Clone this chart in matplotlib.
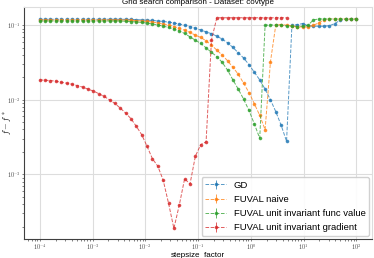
import matplotlib

# no display in the sandbox
matplotlib.use('Agg')

import numpy as np
import matplotlib.pyplot as plt
from matplotlib.ticker import FuncFormatter

plt.rcParams['mathtext.fontset'] = 'cm'
plt.rcParams['font.family'] = ['Liberation Sans', 'DejaVu Sans']

# stepsize factors, 60 values from 1e-4 to 1e2
stepsizes = np.logspace(-4, 2, 60)

gd = [0.1202] * 16 + [
    0.1199, 0.1196, 0.1188, 0.1180, 0.1169, 0.1159, 0.1141, 0.1124, 0.1100, 0.1073,
    0.1040, 0.1003, 0.0961, 0.0912, 0.0863, 0.0814, 0.0770, 0.0713, 0.0651, 0.0581,
    0.0504, 0.0427, 0.0363, 0.0296, 0.0234, 0.0185, 0.0139, 0.0100, 0.00692, 0.00454,
    0.00278, 0.1000, 0.1015, 0.1054, 0.0985, 0.0970, 0.0970, 0.0970, 0.0985, 0.1054,
    0.1166, 0.1202, 0.1213, 0.1213]

fuval_naive = [0.1177] * 16 + [
    0.1174, 0.1166, 0.1155, 0.1141, 0.1124, 0.1104, 0.1076, 0.1044, 0.1006, 0.0961,
    0.0904, 0.0858, 0.0799, 0.0736, 0.0686, 0.0618, 0.0541, 0.0464, 0.0398, 0.0334,
    0.0273, 0.0220, 0.0167, 0.0125, 0.00885, 0.00618, 0.00398, 0.0324, 0.1015, 0.1022,
    0.1000, 0.0979, 0.0949, 0.0949, 0.0949, 0.1000, 0.1073, 0.1191] + [0.1213] * 6

fuval_func = [0.1141] * 16 + [
    0.1130, 0.1120, 0.1107, 0.1090, 0.1067, 0.1040, 0.1009, 0.0973, 0.0932, 0.0885,
    0.0839, 0.0775, 0.0698, 0.0630, 0.0570, 0.0498, 0.0433, 0.0380, 0.0318, 0.0250,
    0.0185, 0.0139, 0.0102, 0.00720, 0.00474, 0.00305, 0.1000, 0.1009, 0.1009, 0.1000,
    0.0979, 0.0970, 0.0961, 0.0970, 0.1000, 0.1177] + [0.1213] * 8

fuval_grad = [
    0.0185, 0.0183, 0.0181, 0.0178, 0.0172, 0.0167, 0.0162, 0.0155, 0.0148, 0.0139,
    0.0131, 0.0121, 0.0111, 0.0100, 0.00893, 0.00775, 0.00665, 0.00558, 0.00441, 0.00341,
    0.00238, 0.00162, 0.00129, 0.000839, 0.000411, 0.000189, 0.000386, 0.000876, 0.000742,
    0.00175, 0.00251, 0.00273, 0.0631] + [0.1259] * 14

series = [
    ('GD', gd),
    ('FUVAL naive', fuval_naive),
    ('FUVAL unit invariant func value', fuval_func),
    ('FUVAL unit invariant gradient', fuval_grad),
]

xticks = [1e-4, 1e-3, 1e-2, 1e-1, 1e0, 1e1, 1e2]
yticks = [1e-3, 1e-2, 1e-1]

fig = plt.figure(figsize=(3.74, 2.58), dpi=100)
ax = fig.add_axes([0.064, 0.074, 0.931, 0.898])

for name, values in series:
    values = np.array(values)
    xs = stepsizes[:len(values)]
    ax.errorbar(xs, values, yerr=np.zeros_like(values), fmt='.--', markersize=3.2,
                linewidth=0.7, elinewidth=0.7, alpha=0.75, label=name)

ax.set_xscale('log')
ax.set_yscale('log')
ax.set_xticks(xticks)
ax.set_yticks(yticks)

fmt = FuncFormatter(lambda v, pos: r'$10^{%d}$' % round(np.log10(v)))
ax.xaxis.set_major_formatter(fmt)
ax.yaxis.set_major_formatter(fmt)

ax.tick_params(which='both', labelsize=4.5, length=1.5, width=0.5, pad=1, colors='0.3')
ax.grid(True, which='major', color='#dddddd', linewidth=0.8)

for side in ['left', 'bottom']:
    ax.spines[side].set_color('0.25')
    ax.spines[side].set_linewidth(0.8)
for side in ['top', 'right']:
    ax.spines[side].set_color('#dddddd')

ax.set_title('Grid search comparison - Dataset: covtype', fontsize=5.8, pad=2)
ax.set_xlabel('stepsize_factor', fontsize=5.8, labelpad=-0.5)
ax.set_ylabel(r'$f - f^*$', fontsize=6.2)
# label sits between the tick labels, like in the original
ax.yaxis.set_label_coords(-0.026, 0.5)

ax.legend(loc='lower right', fontsize=6.8, framealpha=0.9, edgecolor='#cccccc',
          borderaxespad=0.3, handlelength=2.2, labelspacing=0.55)

plt.savefig('out.png', dpi=100)
plt.close(fig)
